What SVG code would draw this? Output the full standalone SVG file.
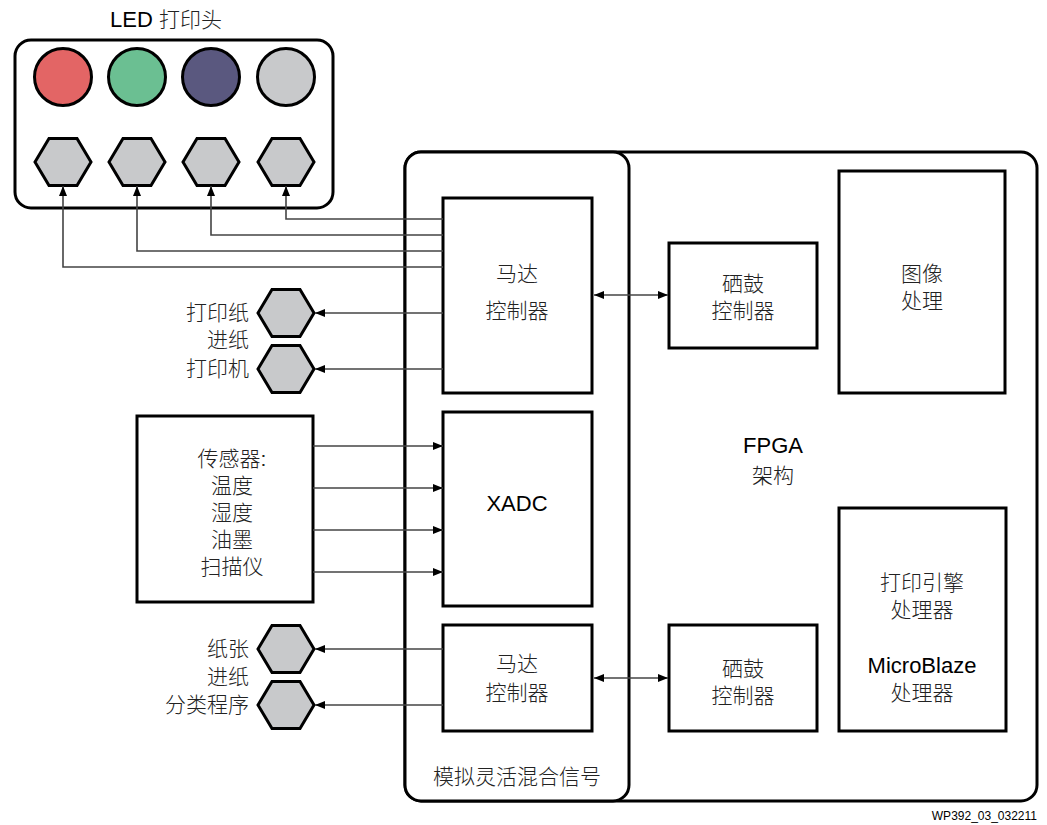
<svg xmlns="http://www.w3.org/2000/svg" xmlns:xlink="http://www.w3.org/1999/xlink" width="1047" height="825" viewBox="0 0 1047 825">
<style>
.box{fill:#fff;stroke:#000;stroke-width:3}
.hex{fill:#c8c9cb;stroke:#000;stroke-width:3;stroke-linejoin:miter}
.circ{stroke:#000;stroke-width:3}
.cn{fill:none;stroke:#444;stroke-width:1.6}
.cj{font-family:"Liberation Sans","Noto Sans CJK SC",sans-serif;font-size:21px;fill:#222;font-weight:300}
.lt{font-family:"Liberation Sans",Arial,sans-serif;font-size:22px;fill:#000}
.mid{text-anchor:middle}
.end{text-anchor:end}
</style>
<defs>
<polygon id="hexshape" points="-28,0 -14,-23.5 14,-23.5 28,0 14,23.5 -14,23.5"/>
<marker id="ah" viewBox="0 0 10 8" refX="10" refY="4" markerWidth="10" markerHeight="8" markerUnits="userSpaceOnUse" orient="auto-start-reverse">
<path d="M0,0 L10,4 L0,8 z" fill="#000"/>
</marker>
</defs>

<g id="led-head">
<text x="110" y="27"><tspan class="lt">LED </tspan><tspan class="cj" font-size="22">打印头</tspan></text>
<rect class="box" x="15" y="40" width="318" height="168" rx="16"/>
<circle class="circ" cx="63" cy="77" r="28.5" fill="#e36565"/>
<circle class="circ" cx="137" cy="77" r="28.5" fill="#6bbf92"/>
<circle class="circ" cx="211" cy="77" r="28.5" fill="#5a587f"/>
<circle class="circ" cx="286" cy="77" r="28.5" fill="#c8c9cb"/>
<use href="#hexshape" class="hex" x="63" y="162"/>
<use href="#hexshape" class="hex" x="137" y="162"/>
<use href="#hexshape" class="hex" x="211" y="162"/>
<use href="#hexshape" class="hex" x="286" y="162"/>
</g>

<g id="fpga">
<rect class="box" x="405" y="152" width="632" height="649" rx="16"/>
<text class="mid" x="773" y="453"><tspan class="lt">FPGA</tspan><tspan class="cj" x="773" dy="30">架构</tspan></text>
</g>

<g id="amsignal">
<rect class="box" x="405" y="152" width="224" height="649" rx="16"/>
<text class="cj mid" x="517" y="784">模拟灵活混合信号</text>
</g>

<g id="motor1">
<rect class="box" x="443" y="198" width="149" height="195"/>
<text class="cj mid" x="517" y="281">马达<tspan x="517" dy="37">控制器</tspan></text>
</g>

<g id="xadc">
<rect class="box" x="443" y="412" width="149" height="194"/>
<text class="lt mid" x="517" y="511">XADC</text>
</g>

<g id="motor2">
<rect class="box" x="443" y="625" width="149" height="106"/>
<text class="cj mid" x="517" y="671">马达<tspan x="517" dy="29">控制器</tspan></text>
</g>

<g id="drum1">
<rect class="box" x="669" y="243" width="148" height="105"/>
<text class="cj mid" x="743" y="291">硒鼓<tspan x="743" dy="27">控制器</tspan></text>
</g>

<g id="drum2">
<rect class="box" x="669" y="625" width="148" height="106"/>
<text class="cj mid" x="743" y="676">硒鼓<tspan x="743" dy="27">控制器</tspan></text>
</g>

<g id="imageproc">
<rect class="box" x="839" y="171" width="166" height="222"/>
<text class="cj mid" x="922" y="281">图像<tspan x="922" dy="27">处理</tspan></text>
</g>

<g id="engine">
<rect class="box" x="839" y="508" width="167" height="223"/>
<text class="cj mid" x="922" y="590">打印引擎<tspan x="922" dy="27">处理器</tspan></text>
<text class="mid" x="922" y="673"><tspan class="lt">MicroBlaze</tspan><tspan class="cj" x="922" dy="27">处理器</tspan></text>
</g>

<g id="sensors">
<rect class="box" x="137" y="416" width="176" height="186"/>
<text class="cj mid" x="232" y="466">传感器:<tspan x="232" dy="27">温度</tspan><tspan x="232" dy="27">湿度</tspan><tspan x="232" dy="27">油墨</tspan><tspan x="232" dy="27">扫描仪</tspan></text>
</g>

<g id="paper-feed-motors">
<use href="#hexshape" class="hex" x="286" y="313"/>
<use href="#hexshape" class="hex" x="286" y="369"/>
<text class="cj end" x="249" y="320">打印纸<tspan x="249" dy="27">进纸</tspan><tspan x="249" dy="29">打印机</tspan></text>
</g>

<g id="sorter-motors">
<use href="#hexshape" class="hex" x="286" y="649"/>
<use href="#hexshape" class="hex" x="286" y="705"/>
<text class="cj end" x="249" y="656">纸张<tspan x="249" dy="28">进纸</tspan><tspan x="249" dy="28">分类程序</tspan></text>
</g>

<g id="connectors">
<path class="cn" d="M443,219 H286 V186" marker-end="url(#ah)"/>
<path class="cn" d="M443,235 H211 V186" marker-end="url(#ah)"/>
<path class="cn" d="M443,251 H137 V186" marker-end="url(#ah)"/>
<path class="cn" d="M443,267 H63 V186" marker-end="url(#ah)"/>
<path class="cn" d="M443,313 H315" marker-end="url(#ah)"/>
<path class="cn" d="M443,369 H315" marker-end="url(#ah)"/>
<path class="cn" d="M313,446 H443" marker-end="url(#ah)"/>
<path class="cn" d="M313,488 H443" marker-end="url(#ah)"/>
<path class="cn" d="M313,530 H443" marker-end="url(#ah)"/>
<path class="cn" d="M313,572 H443" marker-end="url(#ah)"/>
<path class="cn" d="M443,649 H315" marker-end="url(#ah)"/>
<path class="cn" d="M443,705 H315" marker-end="url(#ah)"/>
<path class="cn" d="M594,295 H668" marker-start="url(#ah)" marker-end="url(#ah)"/>
<path class="cn" d="M594,678 H668" marker-start="url(#ah)" marker-end="url(#ah)"/>
</g>

<text x="1037" y="820" text-anchor="end" font-family="Liberation Sans, Arial, sans-serif" font-size="12" fill="#000">WP392_03_032211</text>
</svg>
